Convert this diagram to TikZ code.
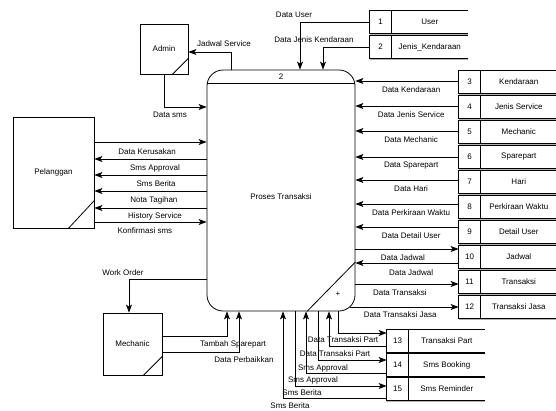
\documentclass[tikz,border=0pt]{standalone}
\usepackage{fontspec}
\setmainfont{Liberation Sans}
\usepackage{tikz}
\usetikzlibrary{positioning,calc,arrows.meta}

\begin{document}
\begin{tikzpicture}[x=1pt, y=-1pt, line width=0.8pt,
  ent/.style={rectangle, draw, line width=0.8pt, align=center, font=\fontsize{8}{9}\selectfont},
  prc/.style={rectangle, draw, line width=0.8pt, rounded corners=16pt,
              minimum width=148pt, minimum height=241pt},
  dnum/.style={minimum width=21pt, minimum height=22pt, inner sep=0pt, font=\fontsize{8}{9}\selectfont},
  dname/.style={minimum width=76pt, minimum height=22pt, inner sep=0pt, font=\fontsize{8}{9}\selectfont},
  flow/.style={-{Stealth[length=8pt,width=6pt,inset=2pt]}, line width=0.8pt},
  lbl/.style={font=\fontsize{8}{9}\selectfont, inner sep=0pt}
]
\useasboundingbox (0,0) rectangle (556,410);

% process
\node[prc] (proc) at (281,190.5) {};
\node[lbl] (ptitle) at ($(proc.center)+(0,6)$) {Proses Transaksi};
\node[lbl] (pnum) at (281,77) {2};
\node[lbl] (pplus) at (338,294) {+};
\draw (proc.west |- 0,83) -- (proc.east |- 0,83);
\draw (proc.south -| 307,0) -- (proc.east |- 0,262);

% external entities
\node[ent, minimum width=48pt, minimum height=50pt] (admin) at (164,49) {Admin};
\node[ent, minimum width=81pt, minimum height=111pt] (plg) at (53.5,172.5) {Pelanggan};
\node[ent, minimum width=59pt, minimum height=62pt] (mech) at (132.5,344) {Mechanic};
\draw ($(admin.south east)+(-16,0)$) -- ($(admin.south east)+(0,-16)$);
\draw ($(plg.south east)+(-26,0)$) -- ($(plg.south east)+(0,-28)$);
\draw ($(mech.south east)+(-19,0)$) -- ($(mech.south east)+(0,-19)$);

% data stores
\foreach \n/\x/\y/\nm in {1/380.5/22/User, 2/380.5/47/Jenis\_Kendaraan,
    3/469.5/82/Kendaraan, 4/469.5/107/Jenis Service, 5/469.5/132/Mechanic,
    6/469.5/157/Sparepart, 7/469.5/182/Hari, 8/469.5/207/Perkiraan Waktu,
    9/469.5/232/Detail User, 10/469.5/257/Jadwal, 11/469.5/282/Transaksi,
    12/469.5/307/Transaksi Jasa, 13/397.5/341/Transaksi Part,
    14/397.5/365/Sms Booking, 15/397.5/389/Sms Reminder} {
  \node[dnum] (n\n) at (\x,\y) {\n};
  \node[dname, right=0pt of n\n] (s\n) {\nm};
  \draw (s\n.north east) -- (n\n.north west) -- (n\n.south west) -- (s\n.south east);
  \draw (n\n.north east) -- (n\n.south east);
  \draw[gray!60, line width=1pt] ($(n\n.south west)+(0,1.5)$) -- ($(s\n.south east)+(0,1.5)$);
}

% flows top
\draw[flow] (n1.west) -| (proc.north -| 300,0) node[lbl, pos=0.5, above=4pt, xshift=-6pt] {Data User};
\draw[flow] (n2.west) -| (proc.north -| 323,0) node[lbl, pos=0.5, above=4pt, xshift=-9pt] {Data Jenis Kendaraan};
\draw[flow] (proc.north -| 231,0) |- (admin.east |- 0,52) node[lbl, pos=0.5, above=5pt, xshift=-7pt] {Jadwal Service};
\draw[flow] (admin.south) |- (proc.west |- 0,107) node[lbl, pos=0.5, below=5pt, xshift=6pt] {Data sms};

% flows Pelanggan
\draw[flow] (plg.east |- 0,142) -- (proc.west |- 0,142) node[lbl, pos=0.47, below=6pt] {Data Kerusakan};
\draw[flow] (proc.west |- 0,159) -- (plg.east |- 0,159) node[lbl, pos=0.46, below=5pt] {Sms Approval};
\draw[flow] (proc.west |- 0,175) -- (plg.east |- 0,175) node[lbl, pos=0.45, below=5pt] {Sms Berita};
\draw[flow] (proc.west |- 0,191) -- (plg.east |- 0,191) node[lbl, pos=0.47, below=5pt] {Nota Tagihan};
\draw[flow] (proc.west |- 0,208) -- (plg.east |- 0,208) node[lbl, pos=0.46, below=4pt] {History Service};
\draw[flow] (plg.east |- 0,222) -- (proc.west |- 0,222) node[lbl, pos=0.45, below=5pt] {Konfirmasi sms};

% flows Mechanic
\draw[flow] (proc.west |- 0,279) -| (mech.north -| 129,0) node[lbl, pos=0.5, above=3pt, xshift=-6pt] {Work Order};
\draw[flow] (mech.east |- 0,336) -| (proc.south -| 227,0) node[lbl, pos=0.5, below=4pt, xshift=6pt] {Tambah Sparepart};
\draw[flow] (mech.east |- 0,352) -| (proc.south -| 239,0) node[lbl, pos=0.5, below=4pt, xshift=5pt] {Data Perbaikkan};

% flows right stores
\foreach \i/\ay/\t in {3/81/Data Kendaraan, 4/106/Data Jenis Service, 5/131/Data Mechanic,
    6/157/Data Sparepart, 7/180/Data Hari, 8/204/Data Perkiraan Waktu, 9/227/Data Detail User} {
  \draw[flow] (n\i.west |- 0,\ay) -- (proc.east |- 0,\ay) node[lbl, pos=0.46, below=5pt] {\t};
}
\draw[flow] (proc.east |- 0,249) -- (n10.west |- 0,249) node[lbl, pos=0.46, below=5pt] {Data Jadwal};
\draw[flow] (n10.west |- 0,263) -- (proc.east |- 0,263) node[lbl, pos=0.46, below=6pt] {Data Jadwal};
\draw[flow] (proc.east |- 0,284) -- (n11.west |- 0,284) node[lbl, pos=0.43, below=5pt] {Data Transaksi};
\draw[flow] ($(proc.east |- 0,307)+(-5,0)$) -- (n12.west |- 0,307) node[lbl, pos=0.46, below=4pt] {Data Transaksi Jasa};

% flows bottom stores
\draw[flow] (proc.south -| 338,0) |- (n13.west |- 0,333) node[lbl, pos=0.5, below=3pt, xshift=5pt] {Data Transaksi Part};
\draw[flow] (n13.west |- 0,346) -| (proc.south -| 329,0) node[lbl, pos=0.5, below=4pt, xshift=6pt] {Data Transaksi Part};
\draw[flow] (proc.south -| 318,0) |- (n14.west |- 0,360) node[lbl, pos=0.5, below=4pt, xshift=5pt] {Sms Approval};
\draw[flow] (n14.west |- 0,373) -| (proc.south -| 306,0) node[lbl, pos=0.5, below=3pt, xshift=7pt] {Sms Approval};
\draw[flow] (proc.south -| 295,0) |- (n15.west |- 0,386) node[lbl, pos=0.5, below=3pt, xshift=7pt] {Sms Berita};
\draw[flow] (n15.west |- 0,398) -| (proc.south -| 283,0) node[lbl, pos=0.5, below=4pt, xshift=7pt] {Sms Berita};
\end{tikzpicture}
\end{document}
